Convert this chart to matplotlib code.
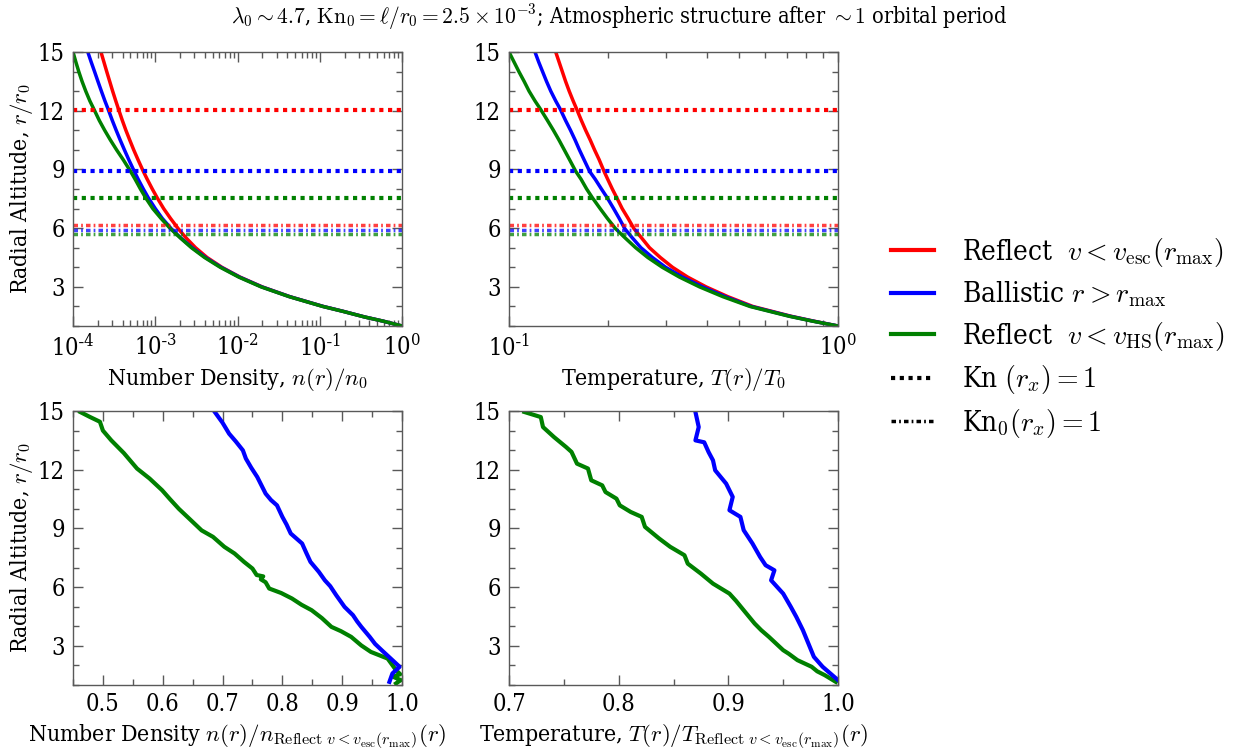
import numpy as np
import matplotlib
matplotlib.use("Agg")
import matplotlib.pyplot as plt
from matplotlib.ticker import FixedLocator, MultipleLocator, FuncFormatter, LogLocator, NullFormatter

plt.rcParams['font.family'] = ['DejaVu Serif']
plt.rcParams['font.stretch'] = 'condensed'
plt.rcParams['mathtext.fontset'] = 'cm'

# ---------------- data ----------------
# Top-left: number density n/n0 (log10) vs radial altitude
r_top = [15.0, 14.5, 14.0, 13.5, 13.0, 12.5, 12.07, 11.5, 11.0, 10.5, 10.0, 9.5, 8.9, 8.5, 8.0, 7.54, 7.0, 6.5,
         5.97, 5.5, 5.0, 4.5, 4.0, 3.5, 3.0, 2.5, 2.0, 1.75, 1.46, 1.25, 1.0]
logn_green = [-4.0, -3.966, -3.93, -3.89, -3.845, -3.795, -3.745, -3.68, -3.615, -3.545, -3.47, -3.39, -3.30, -3.245,
              -3.18, -3.115, -3.03, -2.93, -2.815, -2.695, -2.56, -2.40, -2.21, -1.985, -1.714, -1.372, -0.965,
              -0.72, -0.455, -0.232, 0.0]
logn_blue = [-3.82, -3.78, -3.738, -3.697, -3.655, -3.612, -3.572, -3.522, -3.475, -3.426, -3.375, -3.322, -3.255,
             -3.208, -3.145, -3.083, -3.0, -2.915, -2.805, -2.69, -2.55, -2.39, -2.2, -1.976, -1.706, -1.367, -0.96,
             -0.717, -0.453, -0.231, 0.0]
logn_red = [-3.66, -3.625, -3.59, -3.554, -3.518, -3.48, -3.446, -3.40, -3.357, -3.31, -3.262, -3.21, -3.145, -3.098,
            -3.036, -2.975, -2.898, -2.815, -2.72, -2.625, -2.51, -2.37, -2.19, -1.97, -1.70, -1.364, -0.958, -0.716,
            -0.452, -0.230, 0.0]

# Top-right: temperature T/T0 (log10)
r_temp = [15.0, 14.5, 14.0, 13.5, 13.0, 12.5, 12.07, 11.5, 11.0, 10.5, 10.0, 9.5, 8.9, 8.5, 8.0, 7.54, 7.0, 6.5,
          5.97, 5.5, 5.0, 4.5, 4.0, 3.5, 3.0, 2.5, 2.0, 1.5, 1.25, 1.0]
logT_green = [-1.000, -0.985, -0.970, -0.954, -0.939, -0.921, -0.904, -0.883, -0.865, -0.848, -0.832, -0.816, -0.797,
              -0.781, -0.764, -0.746, -0.723, -0.701, -0.676, -0.647, -0.615, -0.578, -0.534, -0.482, -0.421, -0.350,
              -0.268, -0.149, -0.078, 0.0]
logT_blue = [-0.921, -0.910, -0.898, -0.886, -0.873, -0.858, -0.844, -0.828, -0.813, -0.799, -0.786, -0.772, -0.755,
             -0.738, -0.719, -0.701, -0.682, -0.665, -0.648, -0.625, -0.599, -0.564, -0.524, -0.473, -0.412, -0.343,
             -0.264, -0.146, -0.076, 0.0]
logT_red = [-0.858, -0.848, -0.838, -0.828, -0.817, -0.805, -0.794, -0.780, -0.767, -0.753, -0.740, -0.726, -0.711,
            -0.700, -0.686, -0.672, -0.656, -0.638, -0.620, -0.597, -0.573, -0.540, -0.503, -0.457, -0.401, -0.335,
            -0.259, -0.143, -0.074, 0.0]

# Knudsen-number levels
kn_levels = [12.05, 8.90, 7.54]      # red, blue, green
kn0_levels = [6.18, 5.92, 5.70]      # red, blue, green

# Bottom-left: density ratio vs altitude
bl_green_x = [0.462, 0.478, 0.495, 0.500, 0.514, 0.535, 0.557, 0.578, 0.599, 0.612, 0.627, 0.645, 0.665, 0.684, 0.703,
              0.720, 0.736, 0.750, 0.757, 0.768, 0.764, 0.772, 0.778, 0.798, 0.816, 0.832, 0.849, 0.866, 0.882, 0.898,
              0.915, 0.932, 0.948, 0.962, 0.976, 0.990, 0.997, 0.985, 0.998, 0.990]
bl_green_r = [14.95, 14.70, 14.45, 14.0, 13.5, 12.85, 12.06, 11.55, 10.95, 10.50, 10.0, 9.48, 8.90, 8.57, 8.06,
              7.72, 7.29, 6.95, 6.62, 6.55, 6.40, 6.25, 5.93, 5.70, 5.42, 5.10, 4.82, 4.42, 3.97, 3.75,
              3.46, 3.02, 2.69, 2.52, 2.35, 1.76, 1.55, 1.42, 1.25, 1.08]
bl_blue_x = [0.687, 0.700, 0.711, 0.722, 0.734, 0.739, 0.748, 0.758, 0.772, 0.781, 0.791, 0.800, 0.807, 0.814, 0.833,
             0.840, 0.847, 0.861, 0.871, 0.880, 0.890, 0.904, 0.918, 0.925, 0.932, 0.946, 0.955, 0.966, 0.984, 0.996,
             0.984, 0.979]
bl_blue_r = [14.95, 14.40, 13.84, 13.45, 12.99, 12.57, 12.10, 11.63, 10.78, 10.45, 10.18, 9.59, 9.20, 8.74, 8.23,
             7.75, 7.29, 6.78, 6.35, 6.05, 5.59, 4.99, 4.57, 4.25, 3.97, 3.46, 3.10, 2.78, 2.27, 1.93,
             1.59, 1.16]

# Bottom-right: temperature ratio vs altitude
br_green_x = [0.714, 0.729, 0.731, 0.741, 0.752, 0.757, 0.762, 0.772, 0.775, 0.785, 0.788, 0.798, 0.801, 0.811, 0.821,
              0.824, 0.837, 0.847, 0.860, 0.863, 0.875, 0.886, 0.901, 0.907, 0.914, 0.924, 0.930, 0.937, 0.950, 0.955,
              0.963, 0.976, 0.981, 0.988, 0.998]
br_green_r = [14.95, 14.69, 14.18, 13.67, 13.16, 12.91, 12.31, 12.06, 11.46, 11.20, 10.86, 10.52, 10.18, 9.84, 9.59,
              9.08, 8.48, 8.06, 7.63, 7.20, 6.69, 6.18, 5.67, 5.30, 4.82, 4.14, 3.80, 3.46, 2.78, 2.60,
              2.27, 1.93, 1.70, 1.50, 1.16]
br_blue_x = [0.870, 0.873, 0.870, 0.878, 0.882, 0.886, 0.888, 0.898, 0.904, 0.901, 0.911, 0.914, 0.922, 0.929, 0.934,
             0.942, 0.939, 0.950, 0.957, 0.962, 0.968, 0.973, 0.978, 0.986, 0.993, 1.000]
br_blue_r = [14.95, 14.18, 13.50, 13.40, 12.90, 12.48, 11.97, 11.29, 10.61, 9.93, 9.59, 8.91, 8.23, 7.54, 7.12,
             6.86, 6.35, 5.67, 4.99, 4.48, 3.80, 3.12, 2.44, 1.93, 1.59, 1.25]

colors = ['red', 'blue', 'green']
legend_labels = [r'Reflect  $v < v_{\rm esc}(r_{\rm max})$',
                 r'Ballistic $r > r_{\rm max}$',
                 r'Reflect  $v < v_{\rm HS}(r_{\rm max})$',
                 r'Kn $(r_x) = 1$',
                 r'Kn$_0(r_x) = 1$']

# ---------------- figure ----------------
W, H = 1238, 749
fig = plt.figure(figsize=(W / 100, H / 100), dpi=100)

def px_axes(x0, x1, y0, y1):
    return fig.add_axes([x0 / W, 1 - y1 / H, (x1 - x0) / W, (y1 - y0) / H])

ax_tl = px_axes(73, 402, 52, 326)
ax_tr = px_axes(509, 838, 52, 326)
ax_bl = px_axes(73, 402, 411, 685)
ax_br = px_axes(509, 838, 411, 685)

FS_TICK = 17
FS_LAB = 16.5
spine_col = '0.35'
kn_style = (0, (1.0, 1.1))
kn0_style = (0, (1.3, 0.9, 0.5, 0.9))

def style(ax):
    for s in ax.spines.values():
        s.set_color(spine_col)
        s.set_linewidth(1.0)
    ax.tick_params(which='both', direction='in', top=True, right=True,
                   color=spine_col, labelsize=FS_TICK, pad=6)
    ax.tick_params(which='major', length=7, width=1)
    ax.tick_params(which='minor', length=4, width=1)
    ax.set_ylim(1, 15)
    ax.yaxis.set_major_locator(FixedLocator([3, 6, 9, 12, 15]))
    ax.yaxis.set_minor_locator(MultipleLocator(1))

def logfmt(v, p):
    e = int(round(np.log10(v)))
    if e < 0:
        return r'$\mathregular{10^{\text{-}%d}}$' % (-e)
    return r'$\mathregular{10^{%d}}$' % e

# top-left
for lg, c in zip([logn_red, logn_blue, logn_green], colors):
    ax_tl.plot(10 ** np.array(lg), r_top, color=c, lw=2.5)
# top-right
for lg, c in zip([logT_red, logT_blue, logT_green], colors):
    ax_tr.plot(10 ** np.array(lg), r_temp, color=c, lw=2.5)

for ax in (ax_tl, ax_tr):
    for lev, c in zip(kn_levels, colors):
        ax.axhline(lev, color=c, lw=3, linestyle=kn_style)
    for lev, c in zip(kn0_levels, colors):
        ax.axhline(lev, color=c, lw=2.5, linestyle=kn0_style, alpha=0.75)
    ax.set_xscale('log')
    style(ax)
    ax.xaxis.set_major_formatter(FuncFormatter(logfmt))
    ax.xaxis.set_minor_formatter(NullFormatter())

ax_tl.set_xlim(1e-4, 1)
ax_tl.xaxis.set_major_locator(LogLocator(base=10, numticks=10))
ax_tl.xaxis.set_minor_locator(LogLocator(base=10, subs=np.arange(2, 10), numticks=20))
ax_tr.set_xlim(0.1, 1)
ax_tr.xaxis.set_major_locator(FixedLocator([0.1, 1.0]))
ax_tr.xaxis.set_minor_locator(FixedLocator([0.2, 0.3, 0.4, 0.5, 0.6, 0.7, 0.8, 0.9]))

ax_tl.set_xlabel(r'Number Density, $n(r)/n_0$', fontsize=FS_LAB, labelpad=4)
ax_tr.set_xlabel(r'Temperature, $T(r)/T_0$', fontsize=FS_LAB, labelpad=4)
ax_tl.set_ylabel(r'Radial Altitude, $r/r_0$', fontsize=FS_LAB)

# bottom panels
ax_bl.plot(bl_green_x, bl_green_r, color='green', lw=3)
ax_bl.plot(bl_blue_x, bl_blue_r, color='blue', lw=3)
ax_br.plot(br_green_x, br_green_r, color='green', lw=3)
ax_br.plot(br_blue_x, br_blue_r, color='blue', lw=3)

for ax in (ax_bl, ax_br):
    style(ax)
    ax.xaxis.set_major_locator(MultipleLocator(0.1))
    ax.xaxis.set_minor_locator(MultipleLocator(0.05))
    ax.xaxis.set_major_formatter(FuncFormatter(lambda v, p: '%.1f' % v))

ax_bl.set_xlim(0.45, 1.0)
ax_br.set_xlim(0.7, 1.0)
ax_bl.set_xlabel(r'Number Density $n(r)/n_{\mathrm{Reflect}\ v<v_{\mathrm{esc}}(r_{\mathrm{max}})}(r)$',
                 fontsize=16.5, labelpad=4)
ax_br.set_xlabel(r'Temperature, $T(r)/T_{\mathrm{Reflect}\ v<v_{\mathrm{esc}}(r_{\mathrm{max}})}(r)$',
                 fontsize=16.5, labelpad=4)
ax_bl.set_ylabel(r'Radial Altitude, $r/r_0$', fontsize=FS_LAB)

for ax in (ax_tl, ax_bl):
    ax.yaxis.set_label_coords(-0.115, 0.5)

fig.suptitle(r'$\lambda_0 \sim 4.7$, $\mathrm{Kn}_0 = \ell/r_0 = 2.5\times 10^{-3}$; Atmospheric structure after $\sim 1$ orbital period',
             fontsize=15.5, y=0.997)

# legend
handles = [plt.Line2D([], [], color=c, lw=3) for c in colors]
handles.append(plt.Line2D([], [], color='black', lw=3, linestyle=kn_style))
handles.append(plt.Line2D([], [], color='black', lw=2.5, linestyle=kn0_style))
fig.legend(handles, legend_labels, loc='upper left', bbox_to_anchor=(866 / W, 1 - 211 / H),
           frameon=False, fontsize=20, handlelength=1.55, handletextpad=1.0, labelspacing=0.38)

fig.savefig('out.png', dpi=100)
